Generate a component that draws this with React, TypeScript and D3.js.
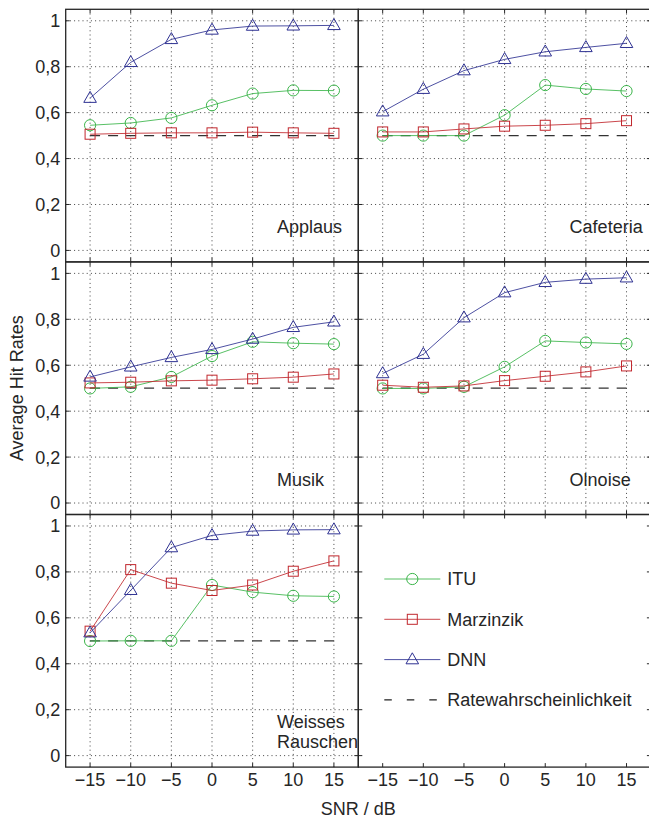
import React, { useEffect, useRef } from 'react';
import * as d3 from 'd3';

// SNR steps on the x axis (dB)
const snr = [-15, -10, -5, 0, 5, 10, 15];
const yTicks = [0, 0.2, 0.4, 0.6, 0.8, 1];
const yTickLabels = ['0', '0,2', '0,4', '0,6', '0,8', '1'];

const noiseTypes = ['Applaus', 'Cafeteria', 'Musik', 'Olnoise', 'Weisses Rauschen'];

// average hit rates, one row per noise type
const itu = [
  [0.545, 0.555, 0.577, 0.632, 0.683, 0.697, 0.696],
  [0.5, 0.5, 0.5, 0.589, 0.72, 0.703, 0.694],
  [0.499, 0.506, 0.549, 0.64, 0.702, 0.696, 0.692],
  [0.499, 0.499, 0.506, 0.593, 0.706, 0.699, 0.693],
  [0.499, 0.5, 0.5, 0.743, 0.712, 0.696, 0.693],
];
const marzinzik = [
  [0.506, 0.51, 0.512, 0.512, 0.515, 0.512, 0.51],
  [0.516, 0.516, 0.529, 0.541, 0.545, 0.552, 0.565],
  [0.523, 0.526, 0.532, 0.535, 0.541, 0.548, 0.562],
  [0.513, 0.504, 0.51, 0.533, 0.552, 0.571, 0.597],
  [0.542, 0.81, 0.751, 0.719, 0.743, 0.803, 0.848],
];
const dnn = [
  [0.663, 0.819, 0.919, 0.96, 0.977, 0.978, 0.98],
  [0.604, 0.702, 0.783, 0.832, 0.865, 0.884, 0.902],
  [0.549, 0.593, 0.634, 0.669, 0.714, 0.765, 0.789],
  [0.564, 0.648, 0.807, 0.916, 0.961, 0.975, 0.981],
  [0.535, 0.72, 0.906, 0.959, 0.978, 0.983, 0.984],
];
const chance = [0.5, 0.5, 0.5, 0.5, 0.5, 0.5, 0.5];

const legendLabels = ['ITU', 'Marzinzik', 'DNN', 'Ratewahrscheinlichkeit'];

const GREEN = '#3bb54a';
const RED = '#c1272d';
const BLUE = '#2e3192';
const INK = '#262626';
const FONT = '"Liberation Sans", Arial, Helvetica, sans-serif';
const FS = 18;

const fmtX = (v: number) => (v < 0 ? '\u2212' + Math.abs(v) : String(v));

const drawMarker = (g: any, kind: string, cx: number, cy: number, color: string) => {
  if (kind === 'circle') {
    g.append('circle').attr('cx', cx).attr('cy', cy).attr('r', 5.6)
      .attr('fill', 'none').attr('stroke', color).attr('stroke-width', 1);
  } else if (kind === 'square') {
    g.append('rect').attr('x', cx - 5).attr('y', cy - 5).attr('width', 10).attr('height', 10)
      .attr('fill', 'none').attr('stroke', color).attr('stroke-width', 1);
  } else {
    g.append('path')
      .attr('d', `M${cx},${cy - 6.8}L${cx + 6.3},${cy + 4.2}L${cx - 6.3},${cy + 4.2}Z`)
      .attr('fill', 'none').attr('stroke', color).attr('stroke-width', 1);
  }
};

const App = () => {
  const ref = useRef<SVGSVGElement>(null);

  const drawChart = () => {
    const svg = d3.select(ref.current);
    svg.selectAll('*').remove();

    const left = 65.7;
    const top = 9.3;
    const colW = 292.6;
    const rowH = 252.6;

    const series = [
      { values: itu, color: GREEN, marker: 'circle' },
      { values: marzinzik, color: RED, marker: 'square' },
      { values: dnn, color: BLUE, marker: 'triangle' },
    ];

    for (let i = 0; i < 6; i++) {
      const col = i % 2;
      const row = Math.floor(i / 2);
      const x0 = left + col * colW;
      const y0 = top + row * rowH;
      const x = d3.scaleLinear().domain([-18, 18]).range([x0, x0 + colW]);
      const y = d3.scaleLinear().domain([-0.05, 1.05]).range([y0 + rowH, y0]);
      const g = svg.append('g');
      const isLegend = i === 5;

      if (!isLegend) {
        // dotted grid
        g.selectAll('.gx').data(snr).enter().append('line')
          .attr('x1', (d) => x(d)).attr('x2', (d) => x(d))
          .attr('y1', y0).attr('y2', y0 + rowH)
          .attr('stroke', '#444').attr('stroke-width', 1).attr('stroke-dasharray', '1,3.2');
        g.selectAll('.gy').data(yTicks).enter().append('line')
          .attr('x1', x0).attr('x2', x0 + colW)
          .attr('y1', (d) => y(d)).attr('y2', (d) => y(d))
          .attr('stroke', '#444').attr('stroke-width', 1).attr('stroke-dasharray', '1,3.2');

        // chance level
        const line = d3.line<number>().x((_, k) => x(snr[k])).y((d) => y(d));
        g.append('path').attr('d', line(chance)).attr('fill', 'none')
          .attr('stroke', '#333').attr('stroke-width', 1.2).attr('stroke-dasharray', '10,8');

        series.forEach((s) => {
          const vals = s.values[i];
          g.append('path').attr('d', line(vals)).attr('fill', 'none')
            .attr('stroke', s.color).attr('stroke-width', 1).attr('stroke-opacity', 0.85);
          vals.forEach((v, k) => drawMarker(g, s.marker, x(snr[k]), y(v), s.color));
        });

        // panel name
        const words = noiseTypes[i].split(' ');
        const t = g.append('text').attr('x', x(8)).attr('font-size', FS)
          .attr('fill', INK).attr('font-family', FONT);
        if (words.length === 1) {
          t.attr('y', y(0.075)).text(words[0]);
        } else {
          t.attr('y', y(0.12));
          words.forEach((w, k) => {
            t.append('tspan').attr('x', x(8)).attr('dy', k === 0 ? 0 : 20).text(w);
          });
        }
      } else {
        const lx = x0 + 26;
        legendLabels.forEach((lab, k) => {
          const ly = y0 + 64.5 + k * 40.3;
          const s = series[k];
          g.append('line').attr('x1', lx).attr('x2', lx + 56).attr('y1', ly).attr('y2', ly)
            .attr('stroke', s ? s.color : '#222').attr('stroke-width', s ? 1 : 1.2)
            .attr('stroke-dasharray', s ? null : '7.5,15')
            .attr('stroke-opacity', s ? 0.85 : 1);
          if (s) drawMarker(g, s.marker, lx + 28, ly, s.color);
          g.append('text').attr('x', lx + 63).attr('y', ly).attr('dy', '0.36em')
            .attr('font-size', FS).attr('fill', INK).attr('font-family', FONT).text(lab);
        });
      }

      // frame
      g.append('rect').attr('x', x0).attr('y', y0).attr('width', colW).attr('height', rowH)
        .attr('fill', 'none').attr('stroke', INK).attr('stroke-width', 1.3);

      // inward ticks on all four sides
      const tl = 4;
      snr.forEach((v) => {
        g.append('line').attr('x1', x(v)).attr('x2', x(v)).attr('y1', y0).attr('y2', y0 + tl)
          .attr('stroke', INK).attr('stroke-width', 1);
        g.append('line').attr('x1', x(v)).attr('x2', x(v)).attr('y1', y0 + rowH - tl).attr('y2', y0 + rowH)
          .attr('stroke', INK).attr('stroke-width', 1);
      });
      yTicks.forEach((v) => {
        g.append('line').attr('x1', x0).attr('x2', x0 + tl).attr('y1', y(v)).attr('y2', y(v))
          .attr('stroke', INK).attr('stroke-width', 1);
        g.append('line').attr('x1', x0 + colW - tl).attr('x2', x0 + colW).attr('y1', y(v)).attr('y2', y(v))
          .attr('stroke', INK).attr('stroke-width', 1);
      });

      if (col === 0) {
        g.selectAll('.yl').data(yTicks).enter().append('text')
          .attr('x', x0 - 5.5).attr('y', (d) => y(d)).attr('dy', '0.36em')
          .attr('text-anchor', 'end').attr('font-size', FS).attr('fill', INK)
          .attr('font-family', FONT).text((_, k) => yTickLabels[k]);
      }
      if (row === 2) {
        g.selectAll('.xl').data(snr).enter().append('text')
          .attr('x', (d) => x(d)).attr('y', y0 + rowH + 19)
          .attr('text-anchor', 'middle').attr('font-size', FS).attr('fill', INK)
          .attr('font-family', FONT).text((d) => fmtX(d));
      }
    }

    svg.append('text').attr('x', left + colW).attr('y', 815)
      .attr('text-anchor', 'middle').attr('font-size', FS).attr('fill', INK)
      .attr('font-family', FONT).text('SNR / dB');

    svg.append('text').attr('transform', `translate(23,${top + 1.5 * rowH}) rotate(-90)`)
      .attr('text-anchor', 'middle').attr('font-size', FS).attr('fill', INK)
      .attr('font-family', FONT).text('Average Hit Rates');
  };

  useEffect(() => {
    drawChart();
  }, []);

  return (
    <svg
      ref={ref}
      width={649}
      height={821}
      style={{ position: 'absolute', left: 0, top: 0, background: '#fff' }}
    />
  );
};

export default App;
